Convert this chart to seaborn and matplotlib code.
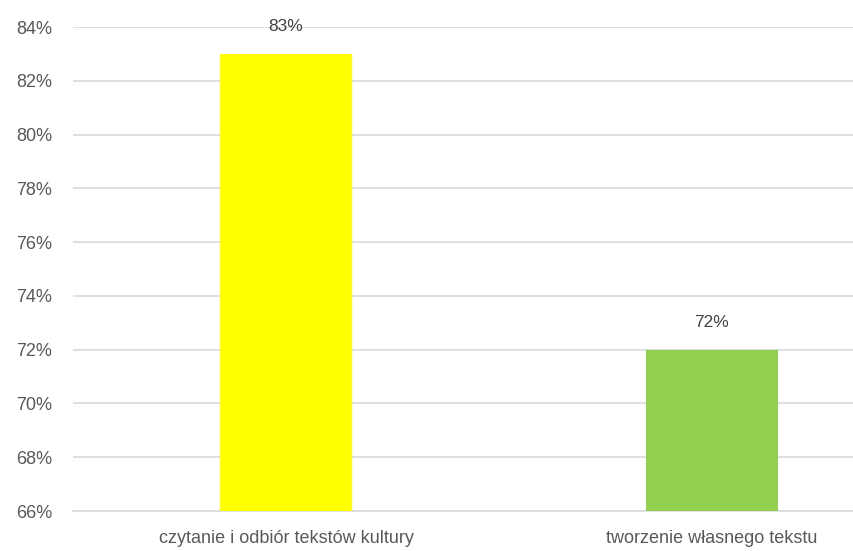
import numpy as np
import pandas as pd
import matplotlib
matplotlib.use("Agg")
import matplotlib.pyplot as plt
import seaborn as sns

# dane z wykresu
kategorie = ["czytanie i odbiór tekstów kultury", "tworzenie własnego tekstu"]
wyniki = [83, 72]
kolory = ["#FFFF00", "#92D050"]
y_ticks = [66, 68, 70, 72, 74, 76, 78, 80, 82, 84]

sns.set_style("white")
plt.rcParams["font.family"] = ["Liberation Sans", "DejaVu Sans"]

df = pd.DataFrame({"kategoria": kategorie, "wynik": wyniki})

fig = plt.figure(figsize=(8.54, 5.51), dpi=100)
# os wychodzi poza prawa krawedz (wykres przyciety jak w oryginale)
ax = fig.add_axes([73 / 854, 40 / 551, 852 / 854, 484 / 551])

sns.barplot(data=df, x="kategoria", y="wynik", hue="kategoria",
            palette=kolory, saturation=1, width=0.31, linewidth=0,
            legend=False, ax=ax, zorder=3)

ax.set_ylim(66, 84)
ax.set_xlim(-0.5, 1.5)
ax.set_yticks(y_ticks)
ax.set_yticklabels([f"{t}%" for t in y_ticks])
ax.yaxis.grid(True, color="#D9D9D9", lw=1.2, zorder=0)
ax.set_axisbelow(True)
ax.set_xlabel("")
ax.set_ylabel("")
for s in ["top", "right", "left"]:
    ax.spines[s].set_visible(False)
ax.spines["bottom"].set_color("#D9D9D9")
ax.spines["bottom"].set_linewidth(1.2)
ax.tick_params(axis="y", length=0, pad=15, labelsize=13, labelcolor="#595959")
ax.tick_params(axis="x", length=0, pad=14, labelsize=13, labelcolor="#595959")

for c in ax.containers:
    ax.bar_label(c, labels=[f"{v:.0f}%" for v in c.datavalues],
                 padding=14, fontsize=12.5, color="#404040")

fig.savefig("out.png", dpi=100)
